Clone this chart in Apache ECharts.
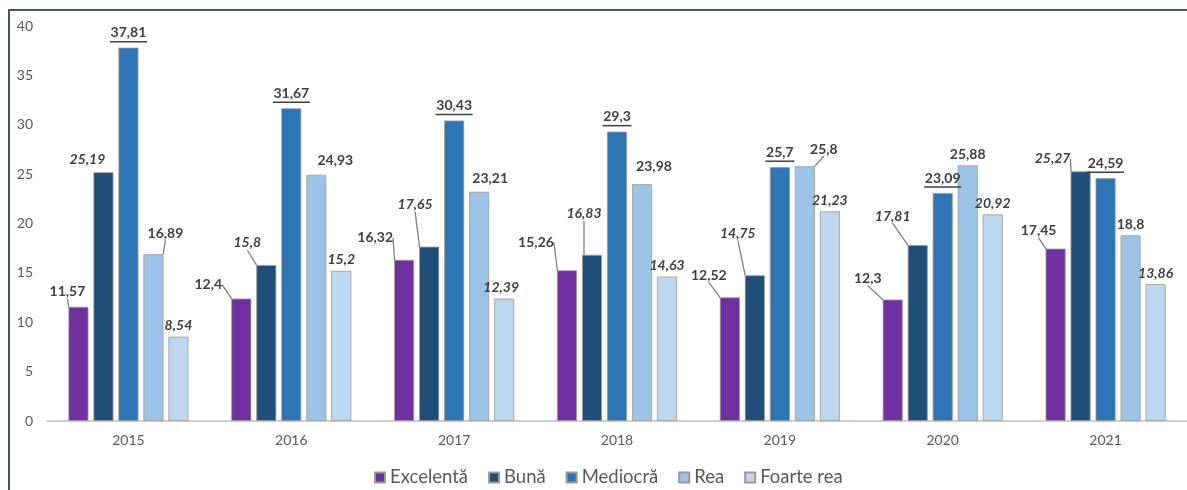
<!DOCTYPE html>
<html>
<head>
<meta charset="utf-8">
<script src="https://cdn.jsdelivr.net/npm/echarts@6/dist/echarts.min.js"></script>
<style>
  html, body { margin: 0; padding: 0; background: #ffffff; }
  #chart { position: absolute; left: 0; top: 0; width: 1187px; height: 490px; }
  #frame { position: absolute; left: 8px; top: 9px; width: 1200px; height: 500px;
           border-top: 2px solid #44546a; border-left: 2px solid #44546a; pointer-events: none; }
</style>
</head>
<body>
<div id="chart"></div>
<div id="frame"></div>
<script>
// ---- data ----
const years = ['2015', '2016', '2017', '2018', '2019', '2020', '2021'];
const excelenta = [11.57, 12.4, 16.32, 15.26, 12.52, 12.3, 17.45];
const buna = [25.19, 15.8, 17.65, 16.83, 14.75, 17.81, 25.27];
const mediocra = [37.81, 31.67, 30.43, 29.3, 25.7, 23.09, 24.59];
const rea = [16.89, 24.93, 23.21, 23.98, 25.8, 25.88, 18.8];
const foarteRea = [8.54, 15.2, 12.39, 14.63, 21.23, 20.92, 13.86];
const seriesNames = ['Excelentă', 'Bună', 'Mediocră', 'Rea', 'Foarte rea'];
const yMin = 0, yMax = 40, yStep = 5;

// ---- styles ----
const FONT = 'Lato';
const colors = ['#7030A0', '#1F4E79', '#2E75B6', '#9DC3E6', '#BDD7EE'];
const labelColor = '#404040';
// label shifts [dx, dy, leader type]  ('' none, 'd' diagonal, 'e' elbow, 'l' from left)
const labelShift = [
  [[-11, -4, 'd'], [-33, -3, 'e'], [-29, -11, 'e'], [-31, -17, 'e'], [-21, -11, 'd'], [-25, -10, 'e'], [-17, -7, 'd']],
  [[-16, -2, ''], [-19, -11, 'd'], [-14, -31, 'd'], [-8, -30, 'd'], [-17, -31, 'd'], [-25, -18, 'd'], [-28, -2, 'e']],
  [[0, 0, ''], [0, 0, ''], [0, 0, ''], [0, 0, ''], [0, 0, ''], [0, 0, ''], [0, 0, '']],
  [[12, -10, 'l'], [19, -3, ''], [11, -2, ''], [12, -7, ''], [19, -6, 'l'], [0, 0, ''], [0, 0, '']],
  [[0, 0, ''], [0, 0, ''], [-3, 0, ''], [0, 0, ''], [0, 0, ''], [0, 0, ''], [0, 0, '']]
];
const fontStyles = ['normal', 'italic', 'normal', 'normal', 'italic'];
const LABEL_SIZE = 14;

const fmt = v => String(v).replace('.', ',');

// measure text for underline widths
const cv = document.createElement('canvas').getContext('2d');
cv.font = 'bold ' + LABEL_SIZE + 'px ' + FONT;
const underlineRich = {
  v: { fontFamily: FONT, fontWeight: 'bold', fontSize: LABEL_SIZE, color: labelColor, lineHeight: 16 }
};
mediocra.forEach((v, i) => {
  underlineRich['u' + i] = { width: Math.round(cv.measureText(fmt(v)).width) + 1, height: 1.5, lineHeight: 2, backgroundColor: labelColor };
});

const allValues = [excelenta, buna, mediocra, rea, foarteRea];

const series = allValues.map((vals, si) => {
  const s = {
    name: seriesNames[si],
    type: 'bar',
    barWidth: 20,
    barGap: '25%',
    itemStyle: { color: colors[si], borderColor: '#9a9a9a', borderWidth: 0.8 },
    data: vals.map((v, i) => ({ value: v, labelLine: { show: labelShift[si][i][2] !== '' } })),
    label: {
      show: true,
      position: 'top',
      distance: 4,
      fontFamily: FONT,
      fontSize: LABEL_SIZE,
      fontWeight: 'bold',
      fontStyle: fontStyles[si],
      color: labelColor,
      formatter: p => fmt(p.value)
    },
    labelLine: { show: true, lineStyle: { color: '#7f7f7f', width: 1.3 } },
    labelLayout: function (params) {
      const sh = labelShift[si][params.dataIndex];
      const dx = sh[0], dy = sh[1], t = sh[2];
      const out = { dx: dx, dy: dy };
      if (t) {
        const lr = params.labelRect, r = params.rect;
        const lx = lr.x + dx, ly = lr.y + dy;
        const barCx = r.x + r.width / 2, barTop = r.y;
        let pts;
        if (t === 'e') {
          const cy = ly + lr.height / 2;
          const x1 = lx + lr.width + 2;
          const x2 = x1 + 6;
          pts = [[x1, cy], [x2, cy], [Math.max(r.x + 6, x2), barTop]];
        } else if (t === 'd') {
          pts = [[lx + lr.width / 2 + 2, ly + lr.height + 1], [barCx, barTop]];
        } else {
          pts = [[lx + 10, ly + lr.height], [barCx, barTop]];
        }
        out.labelLinePoints = pts;
      }
      return out;
    }
  };
  if (si === 2) {
    s.label.formatter = p => '{v|' + fmt(p.value) + '}\n{u' + p.dataIndex + '|}';
    s.label.rich = underlineRich;
    s.label.distance = 5;
  }
  return s;
});

const chart = echarts.init(document.getElementById('chart'));
chart.setOption({
  animation: false,
  backgroundColor: '#ffffff',
  textStyle: { fontFamily: FONT },
  grid: { left: 47, right: 0, top: 26, bottom: 69, containLabel: false },
  legend: {
    data: seriesNames,
    left: 369,
    top: 463,
    itemWidth: 10,
    itemHeight: 10,
    itemGap: 20,
    icon: 'rect',
    textStyle: { fontFamily: FONT, fontSize: 18.5, color: '#595959' }
  },
  xAxis: {
    type: 'category',
    data: years,
    axisLine: { show: true, lineStyle: { color: '#bfbfbf', width: 1.5 } },
    axisTick: { show: false },
    axisLabel: { fontFamily: FONT, fontSize: 14, color: '#595959', margin: 12 }
  },
  yAxis: {
    type: 'value',
    min: yMin, max: yMax, interval: yStep,
    axisLine: { show: false },
    axisTick: { show: false },
    splitLine: { show: false },
    axisLabel: { fontFamily: FONT, fontSize: 14, color: '#595959', margin: 14 }
  },
  series: series
});
</script>
</body>
</html>
